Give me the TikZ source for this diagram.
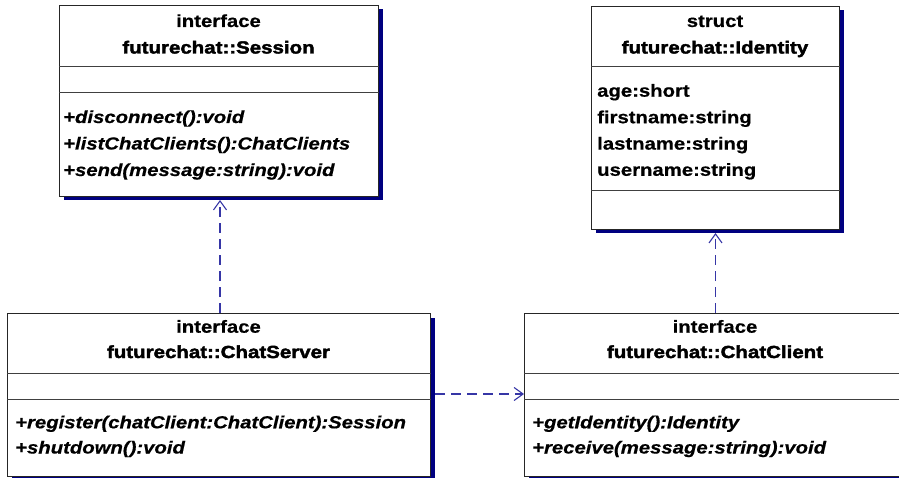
\documentclass[tikz,border=0pt]{standalone}
\usepackage{fontspec}
\setmainfont{Liberation Sans}[FakeStretch=1.17]
\newfontfamily\clsfont{Liberation Sans Bold}[FakeStretch=1.17, FakeBold=2.2]
\newfontfamily\bodyfont{Liberation Sans Bold}[FakeStretch=1.16, FakeBold=0.6]
\newfontfamily\opfont{Liberation Sans Bold Italic}[FakeStretch=1.16, FakeBold=0.6]
\usetikzlibrary{arrows.meta,shadows}
\definecolor{shadownavy}{HTML}{000080}
\definecolor{deplink}{HTML}{3636A6}
\tikzset{
  umlbox/.style={draw=black!85, line width=1pt, fill=white, rectangle, inner sep=0pt,
    anchor=north west, general shadow={fill=shadownavy, shadow xshift=4pt, shadow yshift=-4pt}},
  divider/.style={draw=black!75, line width=1pt},
  stereo/.style={font=\bodyfont\fontsize{17.5}{20}\selectfont, anchor=base, inner sep=0pt},
  clsname/.style={font=\clsfont\fontsize{17.5}{20}\selectfont, anchor=base, inner sep=0pt},
  member/.style={font=\bodyfont\fontsize{17.5}{20}\selectfont, anchor=base west, inner sep=0pt},
  op/.style={font=\opfont\fontsize{17.5}{20}\selectfont, anchor=base west, inner sep=0pt},
  dep/.style={draw=deplink, line width=1.1pt, dash pattern=on 10pt off 6pt,
    -{Straight Barb[length=9pt,width=13pt,line width=1.1pt]}},
}
\begin{document}
\begin{tikzpicture}[x=1pt,y=-1pt]
\useasboundingbox (0,0) rectangle (899,478);
\clip (0,0) rectangle (899,478);

% futurechat::Session
\node[umlbox, minimum width=319pt, minimum height=191pt] (ses) at (59,5) {};
\draw[divider] (ses.west |- 0,67) -- (ses.east |- 0,67);
\draw[divider] (ses.west |- 0,93) -- (ses.east |- 0,93);
\node[stereo] (sesst) at (218.5,27) {interface};
\node[clsname] (sesnm) at (218.5,53.5) {futurechat::Session};
\node[op] (sesop1) at (63,123) {+disconnect():void};
\node[op] (sesop2) at (63,149.5) {+listChatClients():ChatClients};
\node[op] (sesop3) at (63,176) {+send(message:string):void};

% futurechat::Identity
\node[umlbox, minimum width=248pt, minimum height=223pt] (idn) at (591,6) {};
\draw[divider] (idn.west |- 0,67) -- (idn.east |- 0,67);
\draw[divider] (idn.west |- 0,191) -- (idn.east |- 0,191);
\node[stereo] (idnst) at (715,27) {struct};
\node[clsname] (idnnm) at (715,53.5) {futurechat::Identity};
\node[member] (idnat1) at (597,96.7) {age:short};
\node[member] (idnat2) at (597,123.2) {firstname:string};
\node[member] (idnat3) at (597,149.6) {lastname:string};
\node[member] (idnat4) at (597,175.8) {username:string};

% futurechat::ChatServer
\node[umlbox, minimum width=423pt, minimum height=163pt] (srv) at (7,313) {};
\draw[divider] (srv.west |- 0,373) -- (srv.east |- 0,373);
\draw[divider] (srv.west |- 0,399) -- (srv.east |- 0,399);
\node[stereo] (srvst) at (218.5,332.7) {interface};
\node[clsname] (srvnm) at (218.5,358) {futurechat::ChatServer};
\node[op] (srvop1) at (15,428.3) {+register(chatClient:ChatClient):Session};
\node[op] (srvop2) at (15,453.5) {+shutdown():void};

% futurechat::ChatClient
\node[umlbox, minimum width=382pt, minimum height=163pt] (cli) at (524,313) {};
\draw[divider] (cli.west |- 0,373) -- (cli.east |- 0,373);
\draw[divider] (cli.west |- 0,399) -- (cli.east |- 0,399);
\node[stereo] (clist) at (715,332.7) {interface};
\node[clsname] (clinm) at (715,358) {futurechat::ChatClient};
\node[op] (cliop1) at (532,428.3) {+getIdentity():Identity};
\node[op] (cliop2) at (532,453.5) {+receive(message:string):void};

% dependencies
\draw[dep] (srv.north -| 220,0) -- ([yshift=-3pt]ses.south -| 220,0);
\draw[dep] (cli.north -| idn.south) -- ([yshift=-3pt]idn.south);
\draw[dep] ([xshift=4pt]srv.east |- 0,394) -- (cli.west |- 0,394);
\end{tikzpicture}
\end{document}
